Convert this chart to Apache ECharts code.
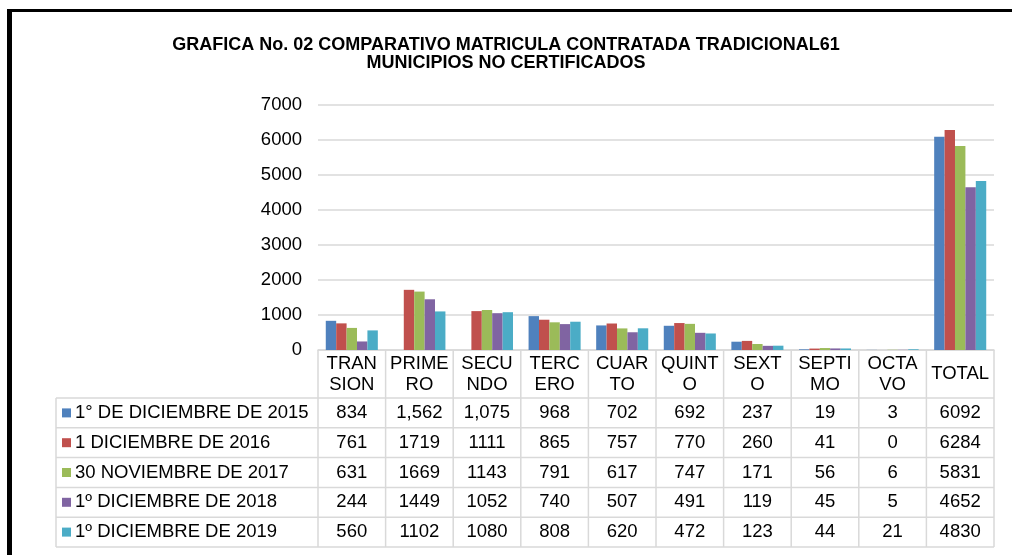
<!DOCTYPE html>
<html><head><meta charset="utf-8">
<script src="https://cdn.jsdelivr.net/npm/echarts@6/dist/echarts.min.js"></script>
<style>html,body{margin:0;padding:0;background:#fff}#c{width:1012px;height:555px}</style>
</head><body><div id="c"></div>
<script>
// ---- data ----
const categories = ["TRANSION","PRIMERO","SECUNDO","TERCERO","CUARTO","QUINTO","SEXTO","SEPTIMO","OCTAVO","TOTAL"];
const categoryLabels = ["TRAN\nSION","PRIME\nRO","SECU\nNDO","TERC\nERO","CUAR\nTO","QUINT\nO","SEXT\nO","SEPTI\nMO","OCTA\nVO","TOTAL"];
const seriesNames = ["1° DE DICIEMBRE DE 2015","1 DICIEMBRE DE 2016","30 NOVIEMBRE DE 2017","1º DICIEMBRE DE 2018","1º DICIEMBRE DE 2019"];
// text entries ("1,562", "1,075") are stored as text in the source and are not plotted as bars
const dic2015 = [834, "1,562", "1,075", 968, 702, 692, 237, 19, 3, 6092];
const dic2016 = [761, 1719, 1111, 865, 757, 770, 260, 41, 0, 6284];
const nov2017 = [631, 1669, 1143, 791, 617, 747, 171, 56, 6, 5831];
const dic2018 = [244, 1449, 1052, 740, 507, 491, 119, 45, 5, 4652];
const dic2019 = [560, 1102, 1080, 808, 620, 472, 123, 44, 21, 4830];
const yMin = 0, yMax = 7000, yInterval = 1000;
const titleText = "GRAFICA No. 02 COMPARATIVO MATRICULA CONTRATADA TRADICIONAL61\nMUNICIPIOS NO CERTIFICADOS";

// ---- style ----
const colors = ["#4F81BD","#C0504D","#9BBB59","#8064A2","#4BACC6"];
const FONT = "'Liberation Sans', Arial, sans-serif";
const FS = 18.5;
const GRID = {left:318, right:18, top:105, bottom:205};
const LINE = "#D9D9D9";
const allSeries = [dic2015, dic2016, nov2017, dic2018, dic2019];

const chart = echarts.init(document.getElementById('c'), null, {renderer:'canvas'});
chart.setOption({
  animation:false,
  backgroundColor:'#fff',
  title:{text:titleText,left:'center',top:31,
    textStyle:{fontFamily:FONT,fontSize:18,fontWeight:'bold',color:'#000',lineHeight:18}},
  grid:{left:GRID.left,right:GRID.right,top:GRID.top,bottom:GRID.bottom,containLabel:false},
  xAxis:{type:'category',data:categoryLabels,
    axisLine:{lineStyle:{color:LINE,width:1.5}},
    axisTick:{show:false},
    axisLabel:{interval:0,fontFamily:FONT,fontSize:FS,color:'#000',lineHeight:21,
      verticalAlign:'middle',margin:24}},
  yAxis:{type:'value',min:yMin,max:yMax,interval:yInterval,
    axisLine:{show:false},axisTick:{show:false},
    splitLine:{lineStyle:{color:LINE,width:1.5}},
    axisLabel:{fontFamily:FONT,fontSize:FS,color:'#000',margin:16,formatter:v=>String(v)}},
  series: allSeries.map((d,i)=>({
    name:seriesNames[i],type:'bar',barGap:0,barCategoryGap:'23%',
    itemStyle:{color:colors[i]},
    data:d.map(v=>typeof v==='number'?v:'-')
  }))
});

// ---- data table beneath the axis ----
const g = [];
const x0 = chart.convertToPixel({xAxisIndex:0},0);
const x1 = chart.convertToPixel({xAxisIndex:0},1);
const colW = x1 - x0;
const axisY = chart.convertToPixel({yAxisIndex:0},0);
const gridL = GRID.left, gridR = 1012 - GRID.right;
const headBottom = 398, rowH = 29.8, legL = 56;
const tableBottom = headBottom + rowH*allSeries.length;
const ls = {stroke:LINE,lineWidth:1.5};
// frame
g.push({type:'rect',shape:{x:7,y:9,width:1005,height:3},style:{fill:'#000'}});
g.push({type:'rect',shape:{x:7,y:9,width:5,height:546},style:{fill:'#000'}});
// horizontal lines
for(let r=0;r<=allSeries.length;r++){
  const y = headBottom + r*rowH;
  g.push({type:'line',shape:{x1:legL,y1:y,x2:gridR,y2:y},style:ls});
}
// vertical lines
g.push({type:'line',shape:{x1:legL,y1:headBottom,x2:legL,y2:tableBottom},style:ls});
for(let c=0;c<=categories.length;c++){
  const x = gridL + c*colW;
  g.push({type:'line',shape:{x1:x,y1:axisY,x2:x,y2:tableBottom},style:ls});
}
// rows
allSeries.forEach((d,r)=>{
  const cy = headBottom + (r+0.5)*rowH;
  g.push({type:'rect',shape:{x:62,y:cy-4.5,width:9,height:9},style:{fill:colors[r]}});
  g.push({type:'text',x:75,y:cy,style:{text:seriesNames[r],font:FS+'px '+FONT,fill:'#000',verticalAlign:'middle',align:'left'}});
  d.forEach((v,c)=>{
    const cx = chart.convertToPixel({xAxisIndex:0},c);
    g.push({type:'text',x:cx,y:cy,style:{text:String(v),font:FS+'px '+FONT,fill:'#000',verticalAlign:'middle',align:'center'}});
  });
});
chart.setOption({graphic:g});
</script></body></html>
